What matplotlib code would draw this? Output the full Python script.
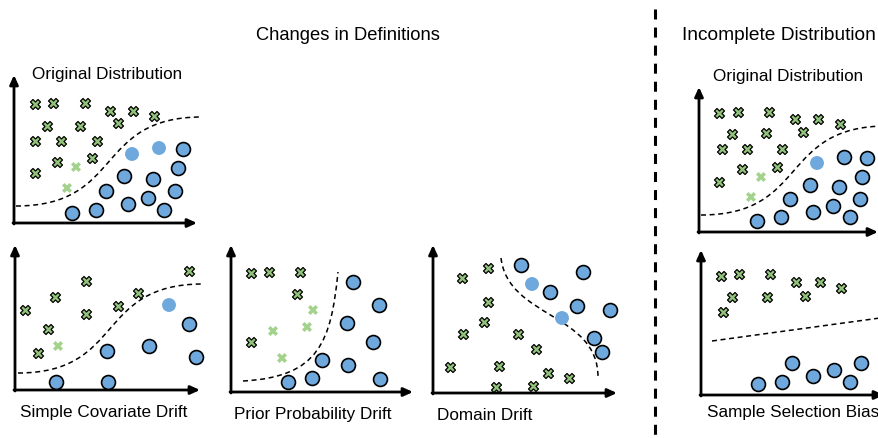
import matplotlib
matplotlib.use('Agg')
import matplotlib.pyplot as plt
from matplotlib.path import Path
from matplotlib.patches import PathPatch
from matplotlib.lines import Line2D

plt.rcParams['font.family'] = ['Liberation Sans', 'DejaVu Sans']
plt.rcParams['lines.scale_dashes'] = False

W, H = 879, 438
BLUE = '#6fa8dc'
GREEN = '#93c47d'
LIGHT_GREEN = '#a3d28c'

# ---------------- data (local panel coordinates) ----------------
# Panel 1: Original Distribution (left)
P1_CROSSES = [(21, 119), (39, 120), (71, 120), (96, 112), (119, 112), (140, 107),
              (33, 97), (66, 97), (104, 100), (21, 82), (47, 82), (83, 82),
              (43, 61), (78, 65), (21, 50)]
P1_LIGHT_CROSSES = [(62, 56), (53, 35)]
P1_LIGHT_CIRCLES = [(118, 69), (145, 75)]
P1_CIRCLES = [(169, 74), (164, 55), (110, 47), (139, 44), (92, 32), (161, 32),
              (134, 25), (114, 19), (82, 13), (58, 10), (150, 13)]
P1_BOUNDARY = [(2, 17), (110, 17), (80, 106), (188, 106)]

# Panel 2: Simple Covariate Drift
P2_CROSSES = [(174, 119), (71, 109), (123, 97), (40, 93), (103, 84), (10, 80),
              (71, 76), (33, 61), (23, 37)]
P2_LIGHT_CROSSES = [(43, 44)]
P2_LIGHT_CIRCLES = [(154, 85)]
P2_CIRCLES = [(174, 66), (134, 44), (92, 39), (181, 33), (41, 8), (93, 8)]
P2_BOUNDARY = [(3, 17), (110, 17), (80, 106), (188, 106)]

# Panel 3: Prior Probability Drift
P3_CROSSES = [(20, 119), (38, 120), (69, 120), (66, 98), (20, 50)]
P3_LIGHT_CROSSES = [(82, 82), (42, 61), (76, 65), (51, 34)]
P3_LIGHT_CIRCLES = []
P3_CIRCLES = [(122, 110), (148, 87), (116, 69), (142, 50), (91, 32), (117, 27),
              (81, 14), (57, 10), (149, 13)]
P3_BOUNDARY = [(12, 11), (88, 15), (100, 50), (107, 120)]

# Panel 4: Domain Drift
P4_CROSSES = [(55, 125), (29, 115), (55, 91), (51, 71), (30, 59), (85, 59),
              (103, 44), (17, 26), (66, 27), (115, 20), (136, 15), (63, 6), (100, 7)]
P4_LIGHT_CROSSES = []
P4_LIGHT_CIRCLES = [(99, 109), (129, 75)]
P4_CIRCLES = [(88, 128), (150, 121), (117, 101), (144, 87), (177, 83),
              (161, 55), (169, 41)]
P4_BOUNDARY = [(68, 135), (75, 75), (165, 80), (165, 16)]

# Panel 5: Original Distribution (right)
P5_CROSSES = [(20, 119), (39, 120), (70, 120), (96, 113), (119, 113), (141, 108),
              (33, 98), (67, 99), (104, 100), (23, 83), (48, 83), (83, 83),
              (43, 63), (78, 65), (20, 50)]
P5_LIGHT_CROSSES = [(62, 55), (52, 35)]
P5_LIGHT_CIRCLES = [(118, 69)]
P5_CIRCLES = [(145, 75), (168, 74), (163, 55), (111, 47), (140, 45), (91, 33),
              (161, 33), (134, 26), (114, 20), (82, 15), (58, 11), (151, 15)]
P5_BOUNDARY = [(2, 17), (110, 17), (80, 106), (188, 106)]

# Panel 6: Sample Selection Bias
P6_CROSSES = [(20, 119), (38, 121), (69, 121), (95, 113), (119, 113), (140, 107),
              (31, 98), (66, 98), (104, 99), (22, 83)]
P6_LIGHT_CROSSES = []
P6_LIGHT_CIRCLES = []
P6_CIRCLES = [(57, 11), (81, 13), (91, 32), (112, 19), (133, 25), (149, 13), (160, 32)]
P6_BOUNDARY_LINE = [(11, 54), (179, 77)]

TITLES = ['Changes in Definitions', 'Incomplete Distribution']
PANEL_LABELS = ['Original Distribution', 'Simple Covariate Drift',
                'Prior Probability Drift', 'Domain Drift',
                'Original Distribution', 'Sample Selection Bias']

# ---------------- drawing ----------------
fig = plt.figure(figsize=(W / 100, H / 100), dpi=100)
fig.patch.set_facecolor('white')


def add_panel(ox, oy, xend, ytop):
    ax = fig.add_axes([ox / W, 1 - oy / H, (xend - ox) / W, (oy - ytop) / H])
    w, h = xend - ox, oy - ytop
    ax.set_xlim(0, w)
    ax.set_ylim(0, h)
    ax.axis('off')
    ap = dict(arrowstyle='-|>,head_length=0.55,head_width=0.25', lw=2.0,
              color='black', shrinkA=0, shrinkB=0)
    ax.annotate('', xy=(w, 0), xytext=(-1, 0), arrowprops=ap, annotation_clip=False)
    ax.annotate('', xy=(0, h), xytext=(0, -1), arrowprops=ap, annotation_clip=False)
    return ax


def scatter_pts(ax, pts, **kw):
    if not pts:
        return
    xs, ys = zip(*pts)
    ax.scatter(list(xs), list(ys), clip_on=False, zorder=3, **kw)


DASH = (0, (3.6, 2.6))


def draw_points(ax, crosses, light_crosses, light_circles, circles):
    scatter_pts(ax, crosses, s=52, marker='X', facecolor=GREEN,
                edgecolor='black', linewidths=0.9)
    scatter_pts(ax, light_crosses, s=52, marker='X', facecolor=LIGHT_GREEN,
                edgecolor='none')
    scatter_pts(ax, light_circles, s=100, marker='o', facecolor=BLUE,
                edgecolor='none')
    scatter_pts(ax, circles, s=100, marker='o', facecolor=BLUE,
                edgecolor='black', linewidths=1.2)


def draw_bezier(ax, ctrl):
    path = Path(ctrl, [Path.MOVETO, Path.CURVE4, Path.CURVE4, Path.CURVE4])
    ax.add_patch(PathPatch(path, fill=False, edgecolor='black', lw=1.1,
                           linestyle=DASH, clip_on=False, zorder=2))


panels = [
    ((14, 223, 197, 75), P1_CROSSES, P1_LIGHT_CROSSES, P1_LIGHT_CIRCLES, P1_CIRCLES, P1_BOUNDARY),
    ((15, 390, 200, 245), P2_CROSSES, P2_LIGHT_CROSSES, P2_LIGHT_CIRCLES, P2_CIRCLES, P2_BOUNDARY),
    ((231, 392, 413, 245), P3_CROSSES, P3_LIGHT_CROSSES, P3_LIGHT_CIRCLES, P3_CIRCLES, P3_BOUNDARY),
    ((433, 393, 617, 245), P4_CROSSES, P4_LIGHT_CROSSES, P4_LIGHT_CIRCLES, P4_CIRCLES, P4_BOUNDARY),
    ((699, 232, 878, 87), P5_CROSSES, P5_LIGHT_CROSSES, P5_LIGHT_CIRCLES, P5_CIRCLES, P5_BOUNDARY),
]
for rect, cr, lcr, lci, ci, bd in panels:
    ax = add_panel(*rect)
    draw_bezier(ax, bd)
    draw_points(ax, cr, lcr, lci, ci)

ax6 = add_panel(701, 395, 884, 250)
bx, by = zip(*P6_BOUNDARY_LINE)
ax6.plot(list(bx), list(by), color='black', lw=1.1, linestyle=DASH, clip_on=False, zorder=2)
draw_points(ax6, P6_CROSSES, P6_LIGHT_CROSSES, P6_LIGHT_CIRCLES, P6_CIRCLES)

# Titles
fig.text(348 / W, 1 - 36 / H, TITLES[0], ha='center', va='center', fontsize=13.2)
fig.text(682 / W, 1 - 35 / H, TITLES[1], ha='left', va='center', fontsize=13.8)

# Panel labels
LBL = 12.3
fig.text(107 / W, 1 - 75 / H, PANEL_LABELS[0], ha='center', va='center', fontsize=LBL)
fig.text(20 / W, 1 - 413 / H, PANEL_LABELS[1], ha='left', va='center', fontsize=LBL)
fig.text(234 / W, 1 - 415 / H, PANEL_LABELS[2], ha='left', va='center', fontsize=LBL)
fig.text(437 / W, 1 - 415 / H, PANEL_LABELS[3], ha='left', va='center', fontsize=LBL)
fig.text(788 / W, 1 - 77 / H, PANEL_LABELS[4], ha='center', va='center', fontsize=LBL)
fig.text(707 / W, 1 - 413 / H, PANEL_LABELS[5], ha='left', va='center', fontsize=LBL)

# Vertical separator
fig.add_artist(Line2D([655 / W, 655 / W], [1 - 9 / H, 0], transform=fig.transFigure,
                      color='black', lw=2.2, linestyle=(0, (7.2, 5.8))))

fig.savefig('out.png', dpi=100)
